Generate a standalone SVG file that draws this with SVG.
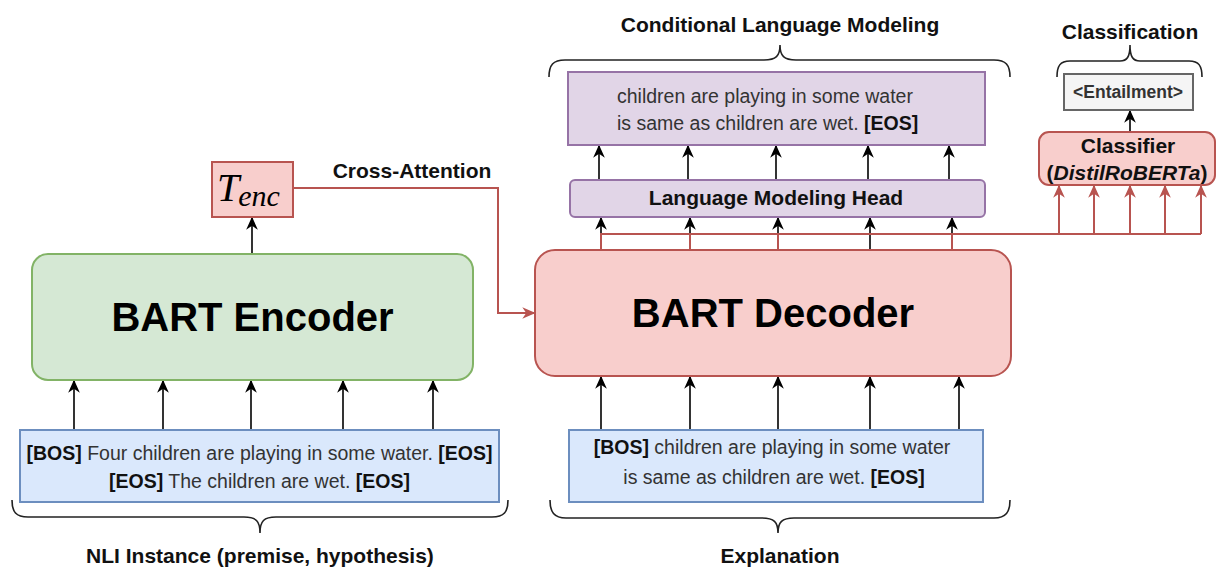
<svg xmlns="http://www.w3.org/2000/svg" width="1220" height="567" viewBox="0 0 1220 567">
  <defs>
    <marker id="arrowBlack" viewBox="0 0 10 10" refX="9" refY="5" markerWidth="13" markerHeight="13" markerUnits="userSpaceOnUse" orient="auto">
      <path d="M0,0.5 L10,5 L0,9.5 L3,5 Z" fill="#000"/>
    </marker>
    <marker id="arrowRed" viewBox="0 0 10 10" refX="9" refY="5" markerWidth="13" markerHeight="13" markerUnits="userSpaceOnUse" orient="auto">
      <path d="M0,0.5 L10,5 L0,9.5 L3,5 Z" fill="#b85450"/>
    </marker>
    <style>
      text { font-family: "Liberation Sans", Arial, Helvetica, sans-serif; }
      text.math { font-family: "Liberation Serif", "DejaVu Serif", serif; font-style: italic; fill: #000; }
      .label { font-size: 21px; font-weight: bold; fill: #111; text-anchor: middle; }
      .big { font-size: 40px; font-weight: bold; fill: #000; text-anchor: middle; }
      .body { font-size: 19.5px; fill: #333; }
      .b { font-weight: bold; fill: #111; }
      .green { fill: #d5e8d4; stroke: #82b366; stroke-width: 2; }
      .red { fill: #f8cecc; stroke: #b85450; stroke-width: 2; }
      .blue { fill: #dae8fc; stroke: #6c8ebf; stroke-width: 2; }
      .purple { fill: #e1d5e7; stroke: #9673a6; stroke-width: 2; }
      .grey { fill: #f5f5f5; stroke: #666666; stroke-width: 2; }
      .arrow { stroke: #000; stroke-width: 1.6; fill: none; marker-end: url(#arrowBlack); }
      .redline { stroke: #b85450; stroke-width: 2; fill: none; }
      .redarrow { stroke: #b85450; stroke-width: 2; fill: none; marker-end: url(#arrowRed); }
      .brace { stroke: #222; stroke-width: 1.6; fill: none; }
    </style>
  </defs>

  <!-- connectors -->
  <g id="connectors">
    <!-- encoder inputs -->
    <line class="arrow" x1="74" y1="430" x2="74" y2="381"/>
    <line class="arrow" x1="163" y1="430" x2="163" y2="381"/>
    <line class="arrow" x1="251" y1="430" x2="251" y2="381"/>
    <line class="arrow" x1="343" y1="430" x2="343" y2="381"/>
    <line class="arrow" x1="433" y1="430" x2="433" y2="381"/>
    <!-- encoder to T_enc -->
    <line class="arrow" x1="252" y1="254" x2="252" y2="218"/>
    <!-- cross-attention -->
    <path class="redarrow" d="M293,188 L498,188 L498,313 L534,313"/>
    <!-- decoder inputs -->
    <line class="arrow" x1="601" y1="430" x2="601" y2="377"/>
    <line class="arrow" x1="690" y1="430" x2="690" y2="377"/>
    <line class="arrow" x1="778" y1="430" x2="778" y2="377"/>
    <line class="arrow" x1="870" y1="430" x2="870" y2="377"/>
    <line class="arrow" x1="959" y1="430" x2="959" y2="377"/>
    <!-- decoder to LM head -->
    <line class="arrow" x1="601" y1="250" x2="601" y2="218"/>
    <line class="arrow" x1="690" y1="250" x2="690" y2="218"/>
    <line class="arrow" x1="778" y1="250" x2="778" y2="218"/>
    <line class="arrow" x1="870" y1="250" x2="870" y2="218"/>
    <line class="arrow" x1="952" y1="250" x2="952" y2="218"/>
    <!-- decoder states routed to classifier -->
    <path class="redline" d="M601,250 L601,234 L1201,234"/>
    <line class="redline" x1="690" y1="250" x2="690" y2="234"/>
    <line class="redline" x1="778" y1="250" x2="778" y2="234"/>
    <line class="redline" x1="952" y1="250" x2="952" y2="234"/>
    <line class="redarrow" x1="1059" y1="234" x2="1059" y2="186"/>
    <line class="redarrow" x1="1094" y1="234" x2="1094" y2="186"/>
    <line class="redarrow" x1="1130" y1="234" x2="1130" y2="186"/>
    <line class="redarrow" x1="1165" y1="234" x2="1165" y2="186"/>
    <line class="redarrow" x1="1201" y1="234" x2="1201" y2="186"/>
    <!-- LM head to output -->
    <line class="arrow" x1="599" y1="180" x2="599" y2="146"/>
    <line class="arrow" x1="688" y1="180" x2="688" y2="146"/>
    <line class="arrow" x1="776" y1="180" x2="776" y2="146"/>
    <line class="arrow" x1="868" y1="180" x2="868" y2="146"/>
    <line class="arrow" x1="949" y1="180" x2="949" y2="146"/>
    <!-- classifier to label -->
    <line class="arrow" x1="1130" y1="132" x2="1130" y2="111"/>
  </g>

  <text class="label" x="412" y="178">Cross-Attention</text>

  <!-- encoder side -->
  <g id="encoder-input">
    <rect class="blue" x="20" y="430" width="479" height="72"/>
    <text class="body" x="259.5" y="460" text-anchor="middle"><tspan class="b">[BOS]</tspan> Four children are playing in some water. <tspan class="b">[EOS]</tspan></text>
    <text class="body" x="259.5" y="488" text-anchor="middle"><tspan class="b">[EOS]</tspan> The children are wet. <tspan class="b">[EOS]</tspan></text>
  </g>

  <g id="encoder">
    <rect class="green" x="32" y="254" width="441" height="126" rx="16"/>
    <text class="big" x="252.5" y="331">BART Encoder</text>
  </g>

  <g id="t-enc">
    <rect class="red" x="212" y="162" width="81" height="55"/>
    <text class="math" x="217" y="201"><tspan font-size="40">T</tspan><tspan font-size="30" dx="-1" dy="5">enc</tspan></text>
  </g>

  <g id="nli-brace">
    <path class="brace" d="M12,500 C12,512 16,517 28,517 L244,517 C256,517 260,521 260,533 C260,521 264,517 276,517 L492,517 C504,517 508,512 508,500"/>
    <text class="label" x="260" y="563">NLI Instance (premise, hypothesis)</text>
  </g>

  <!-- decoder side -->
  <g id="decoder-input">
    <rect class="blue" x="569" y="430" width="414" height="72"/>
    <text class="body" x="772" y="454" text-anchor="middle"><tspan class="b">[BOS]</tspan> children are playing in some water</text>
    <text class="body" x="774" y="484" text-anchor="middle">is same as children are wet. <tspan class="b">[EOS]</tspan></text>
  </g>

  <g id="decoder">
    <rect class="red" x="535" y="250" width="476" height="126" rx="20"/>
    <text class="big" x="773" y="327">BART Decoder</text>
  </g>

  <g id="explanation-brace">
    <path class="brace" d="M550,500 C550,512 554,518 566,518 L762,518 C774,518 778,522 778,533 C778,522 782,518 794,518 L994,518 C1006,518 1010,512 1010,500"/>
    <text class="label" x="780" y="563">Explanation</text>
  </g>

  <g id="lm-head">
    <rect class="purple" x="570" y="180" width="415" height="37" rx="5"/>
    <text class="label" x="776" y="205">Language Modeling Head</text>
  </g>

  <g id="generated-output">
    <rect class="purple" x="568" y="72" width="417" height="73"/>
    <text class="body" x="617" y="103">children are playing in some water</text>
    <text class="body" x="617" y="130">is same as children are wet. <tspan class="b">[EOS]</tspan></text>
  </g>

  <g id="clm-brace">
    <path class="brace" d="M549,77 C549,65 553,60 565,60 L764,60 C776,60 780,56 780,45 C780,56 784,60 796,60 L994,60 C1006,60 1010,65 1010,77"/>
    <text class="label" x="780" y="32">Conditional Language Modeling</text>
  </g>

  <!-- classification head -->
  <g id="classifier">
    <rect class="red" x="1039" y="132" width="176" height="53" rx="10"/>
    <text class="label" x="1128" y="153">Classifier</text>
    <text class="label" x="1127" y="180">(<tspan font-style="italic">DistilRoBERTa</tspan>)</text>
  </g>

  <g id="entailment">
    <rect class="grey" x="1064" y="74" width="129" height="36"/>
    <text x="1128" y="98" font-size="17.5" font-weight="bold" fill="#333" text-anchor="middle">&lt;Entailment&gt;</text>
  </g>

  <g id="classification-brace">
    <path class="brace" d="M1057,77 C1057,66 1060,61 1070,61 L1120,61 C1127,61 1130,57 1130,45 C1130,57 1133,61 1140,61 L1189,61 C1199,61 1202,66 1202,77"/>
    <text class="label" x="1130" y="39">Classification</text>
  </g>
</svg>
